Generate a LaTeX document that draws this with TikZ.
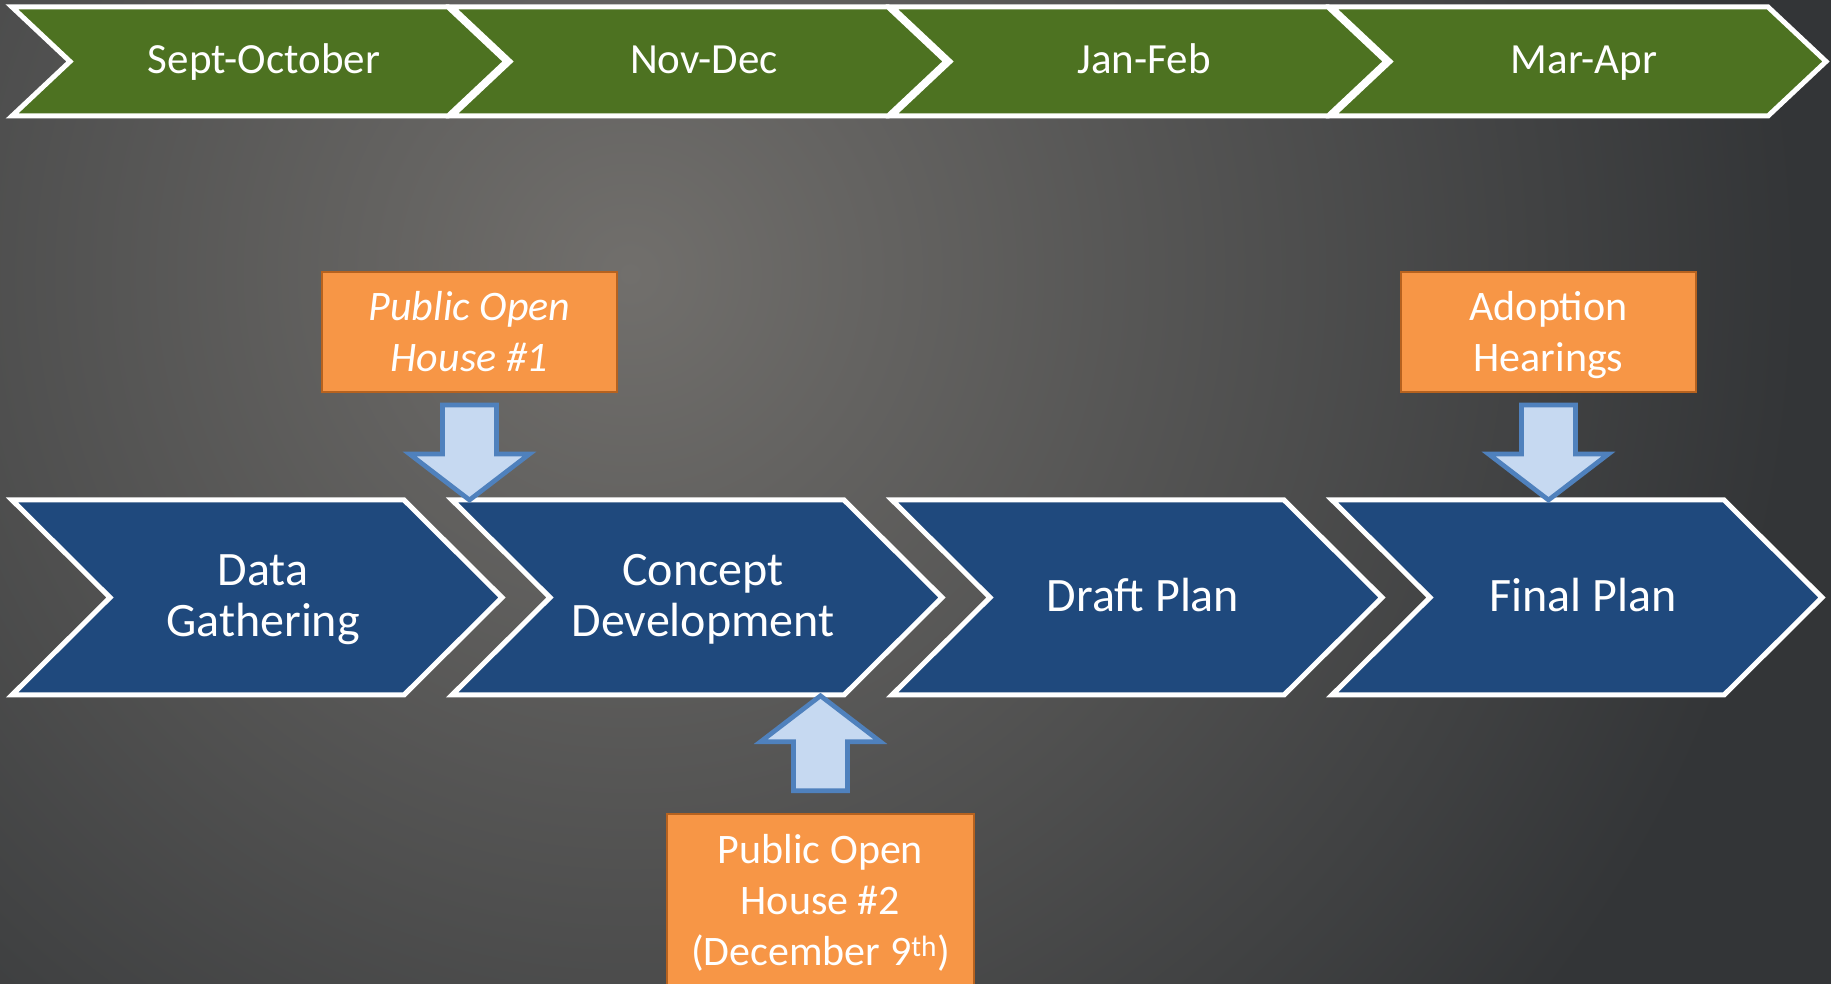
\documentclass[tikz,border=0pt]{standalone}
\usepackage{fontspec}
\setmainfont{Carlito}
\usetikzlibrary{positioning}

\definecolor{monthgreen}{RGB}{77,114,33}
\definecolor{phaseblue}{RGB}{31,73,125}
\definecolor{eventorange}{RGB}{247,150,70}
\definecolor{eventedge}{RGB}{182,98,31}
\definecolor{arrowfill}{RGB}{198,217,241}
\definecolor{arrowedge}{RGB}{79,129,189}
\definecolor{bgdark}{RGB}{51,53,55}
\definecolor{bglight}{RGB}{113,111,108}

\tikzset{
  monthbar/.style={fill=monthgreen, draw=white, line width=5pt},
  phasebar/.style={fill=phaseblue, draw=white, line width=5pt},
  monthtext/.style={text=white, font=\fontsize{43}{52}\selectfont,
    text height=25pt, text depth=0pt},
  phasetext/.style={text=white, align=center, font=\fontsize{48}{51}\selectfont,
    text height=#1, text depth=0pt},
  phasetext/.default=29pt,
  eventbox/.style={fill=eventorange, draw=eventedge, line width=2pt, text=white,
    align=center, inner sep=0pt, minimum width=295pt, minimum height=120pt,
    font=\fontsize{42}{51.6}\selectfont, text height=80pt, text depth=0pt},
  italicbox/.style={eventbox, font=\fontsize{42}{51.6}\selectfont\itshape},
  callarrow/.style={fill=arrowfill, draw=arrowedge, line width=4.7pt, line join=miter},
}

\begin{document}
\begin{tikzpicture}[x=1pt, y=1pt]
  \useasboundingbox (0,0) rectangle (1831,984);
  \clip (0,0) rectangle (1831,984);
  \fill[bgdark] (0,0) rectangle (1831,984);
  \shade[inner color=bglight, outer color=bgdark] (630,710) circle (1170);

  % months
  \foreach \lbl [count=\i from 0] in {Sept-October, Nov-Dec, Jan-Feb, Mar-Apr} {
    \draw[monthbar] ({12+440*\i},977) -- ++(436,0) -- ++(58,-54.5) -- ++(-58,-54.5)
      -- ++(-436,0) -- ++(58,54.5) -- cycle;
    \node[monthtext] (month\i) at ({12+440*\i+252},922.5) {\lbl};
  }

  % phases
  \foreach \lbl/\tall [count=\i from 0] in {{Data\\Gathering}/78pt, {Concept\\Development}/78pt,
      Draft Plan/29pt, Final Plan/29pt} {
    \draw[phasebar] ({12+440*\i},484) -- ++(392,0) -- ++(98,-97.5) -- ++(-98,-97.5)
      -- ++(-392,0) -- ++(98,97.5) -- cycle;
    \node[phasetext=\tall] (phase\i) at ({12+440*\i+251},386.5) {\lbl};
  }

  % events
  \node[italicbox] (house1) at (469.5,652) {Public Open\\House \#1};
  \node[eventbox] (hearing) at (1548.5,652) {Adoption\\Hearings};
  \node[eventbox, minimum width=307pt, minimum height=176pt, text height=128pt,
    font=\fontsize{42}{51}\selectfont]
    (house2) at (820.5,82.2) {Public Open\\House \#2\\(December 9\textsuperscript{th})};

  \draw[callarrow] ([yshift=-12pt]house1.south) -- ++(27,0) -- ++(0,-49) -- ++(33,0)
    -- ++(-60,-46) -- ++(-60,46) -- ++(33,0) -- ++(0,49) -- cycle;
  \draw[callarrow] ([yshift=-12pt]hearing.south) -- ++(27,0) -- ++(0,-49) -- ++(33,0)
    -- ++(-60,-46) -- ++(-60,46) -- ++(33,0) -- ++(0,49) -- cycle;
  \draw[callarrow] ([yshift=22pt]house2.north) -- ++(27,0) -- ++(0,49) -- ++(33,0)
    -- ++(-60,46) -- ++(-60,-46) -- ++(33,0) -- ++(0,-49) -- cycle;
\end{tikzpicture}
\end{document}
